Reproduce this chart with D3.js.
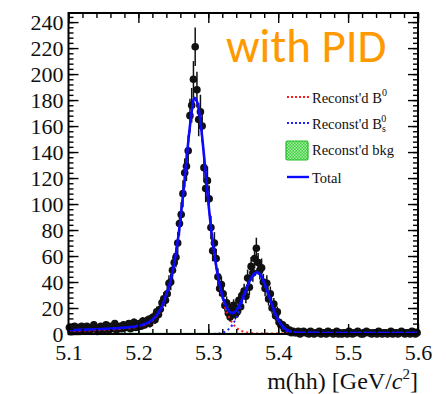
<!DOCTYPE html>
<html><head><meta charset="utf-8">
<script src="https://cdn.jsdelivr.net/npm/d3@7/dist/d3.min.js"></script>
<style>body{margin:0;background:#fff}svg{display:block}</style>
</head><body>
<svg id="c" width="446" height="394"></svg>
<script>
// ---- data ----
const xTicks = [5.1, 5.2, 5.3, 5.4, 5.5, 5.6];
const yTicks = [0, 20, 40, 60, 80, 100, 120, 140, 160, 180, 200, 220, 240];
const binCenters = d3.range(200).map(i => +(5.10125 + 0.0025 * i).toFixed(5));
const dataCounts = [
 5,2,4,6,3,5,2,6,4,3,6,4,3,5,7,4,2,5,6,3,
 5,7,3,6,4,5,8,3,5,6,4,7,6,5,8,4,6,9,5,7,
 8,6,10,7,9,11,8,12,13,11,17,15,19,24,27,26,31,39,40,49,
 55,59,70,85,92,108,124,129,141,168,176,196,221,188,165,171,160,128,112,118,
 104,82,64,70,58,44,35,38,31,22,24,16,13,20,22,15,17,26,21,30,
 33,29,43,36,52,47,58,66,55,49,51,40,35,39,27,31,20,23,14,17,
 9,7,7,4,5,2,3,1,2,1,1,2,0,1,2,1,1,0,2,1,
 0,1,1,2,0,1,1,0,2,1,1,0,1,2,0,1,0,1,1,0,
 2,1,0,1,1,2,1,0,0,1,2,1,1,0,1,1,0,2,1,0,
 1,1,0,1,2,0,1,1,0,1,2,1,0,1,1,0,2,1,0,1];
const curveMass = d3.range(101).map(i => +(5.1 + 0.005 * i).toFixed(4));
const curveB0 = [
 2.2,2.3,2.3,2.4,2.5,2.6,2.7,2.8,2.9,3.0,
 3.1,3.2,3.4,3.5,3.7,3.9,4.1,4.4,4.7,5.1,
 5.6,6.3,7.2,8.5,10.3,13.0,16.8,22,30,38,
 50,66,87,112,140,165,181,176,157,130,
 101,76,56,40,28,19,12.5,8,5,3,
 1.8,1.1,0.7,0.5,0.4,0.35,0.3,0.3,0.3,0.3,
 0.3,0.3,0.3,0.3,0.3,0.3,0.3,0.3,0.3,0.3,
 0.3,0.25,0.25,0.25,0.25,0.25,0.25,0.25,0.25,0.25,
 0.25,0.25,0.25,0.25,0.25,0.25,0.25,0.25,0.25,0.25,
 0.25,0.25,0.25,0.25,0.25,0.25,0.25,0.25,0.25,0.25,0.25];
const curveBs = [
 0,0,0,0,0,0,0,0,0,0,
 0,0,0,0,0,0,0,0,0,0,
 0,0,0,0,0,0,0,0,0,0,
 0,0,0,0,0,0,0,0,0,0,
 0.02,0.06,0.15,0.4,0.9,2.2,4.2,7.5,12.5,19,
 26.5,34,40.5,45,46.5,44.4,38.8,31.4,23.2,15.9,
 10.1,5.9,3.2,1.6,0.72,0.3,0.12,0.05,0,0,
 0,0,0,0,0,0,0,0,0,0,
 0,0,0,0,0,0,0,0,0,0,
 0,0,0,0,0,0,0,0,0,0,0];
const curveTotal = [
 3.0,3.1,3.1,3.2,3.3,3.4,3.5,3.6,3.7,3.8,
 3.9,4.0,4.2,4.3,4.5,4.7,4.9,5.2,5.4,5.8,
 6.3,7.0,7.9,9.2,11.0,13.7,17.5,22.7,30.7,38.7,
 50.7,66.7,87.7,112.7,140.7,165.7,181.7,176.7,157.7,130.7,
 101.7,76.7,56.8,41.1,29.6,21.9,17.3,16.1,18.1,22.6,
 28.9,35.7,41.8,46.1,47.5,45.4,39.7,32.3,24.1,16.8,
 11.0,6.8,4.1,2.5,1.6,1.2,1.0,0.9,0.85,0.85,
 0.85,0.85,0.8,0.8,0.8,0.8,0.8,0.8,0.8,0.75,
 0.75,0.75,0.75,0.75,0.75,0.7,0.7,0.7,0.7,0.7,
 0.7,0.7,0.7,0.7,0.7,0.65,0.65,0.65,0.65,0.65,0.65];
const bkgMass = [5.1, 5.2, 5.3, 5.4, 5.5, 5.6];
const bkgValues = [0.8, 0.73, 0.66, 0.59, 0.52, 0.45];
const legendLabels = ["Reconst'd B", "Reconst'd B", "Reconst'd bkg", "Total"];
const titleText = "with PID";

// ---- layout ----
const SERIF = "Liberation Serif";
const svg = d3.select("#c");
const L = 68.5, R = 418, T = 13, B = 334;
const x = d3.scaleLinear().domain([5.1, 5.6]).range([L, R]);
const y = d3.scaleLinear().domain([0, 247]).range([B, T]);

const defs = svg.append("defs");
const pat = defs.append("pattern").attr("id", "hatch").attr("width", 3).attr("height", 3)
  .attr("patternUnits", "userSpaceOnUse");
pat.append("rect").attr("width", 3).attr("height", 3).attr("fill", "#3ccf3c");
pat.append("rect").attr("width", 1.5).attr("height", 1.5).attr("fill", "#a8eea8");
pat.append("rect").attr("x", 1.5).attr("y", 1.5).attr("width", 1.5).attr("height", 1.5).attr("fill", "#a8eea8");

// background component
svg.append("path").datum(bkgMass.map((m, i) => [m, bkgValues[i]]))
  .attr("fill", "url(#hatch)").attr("stroke", "#22bb22").attr("stroke-width", 0.5)
  .attr("d", d3.area().x(d => x(d[0])).y0(y(0)).y1(d => y(d[1])));

// data points
const pts = svg.append("g");
binCenters.forEach((m, i) => {
  const n = dataCounts[i];
  const e = Math.sqrt(Math.max(n, 1));
  pts.append("line").attr("x1", x(m)).attr("x2", x(m))
    .attr("y1", y(Math.max(0, n - e))).attr("y2", y(n + e))
    .attr("stroke", "#111").attr("stroke-width", 1.5);
});
binCenters.forEach((m, i) => {
  pts.append("circle").attr("cx", x(m)).attr("cy", y(dataCounts[i])).attr("r", 3.8).attr("fill", "#111");
});

// curves
const line = d3.line().x(d => x(d[0])).y(d => y(d[1])).curve(d3.curveMonotoneX);
svg.append("path").datum(curveMass.map((m, i) => [m, curveB0[i]]))
  .attr("fill", "none").attr("stroke", "#ff1a1a").attr("stroke-width", 2)
  .attr("stroke-dasharray", "2,3").attr("d", line);
svg.append("path").datum(curveMass.map((m, i) => [m, curveBs[i]]))
  .attr("fill", "none").attr("stroke", "#2020ff").attr("stroke-width", 2)
  .attr("stroke-dasharray", "2,3").attr("d", line);
svg.append("path").datum(curveMass.map((m, i) => [m, curveTotal[i]]))
  .attr("fill", "none").attr("stroke", "#0a0aff").attr("stroke-width", 2.6).attr("d", line);

// axes (ticks inward)
function tickAxis(axisGen, transform) {
  const g = svg.append("g").attr("transform", transform).call(axisGen);
  g.select(".domain").remove();
  g.selectAll("line").attr("stroke", "#000").attr("stroke-width", 1.4);
  return g;
}
const xMinor = d3.range(5.1, 5.6001, 0.02).map(v => +v.toFixed(3));
const yMinor = d3.range(0, 247, 4);
tickAxis(d3.axisBottom(x).tickValues(xMinor).tickSize(-5).tickFormat(""), `translate(0,${B})`);
const xb = tickAxis(d3.axisBottom(x).tickValues(xTicks).tickSize(-10).tickPadding(10).tickFormat(d3.format(".1f")), `translate(0,${B})`);
xb.selectAll("text").style("font-family", SERIF).style("font-size", "22px").attr("fill", "#111");
tickAxis(d3.axisTop(x).tickValues(xMinor).tickSize(-5).tickFormat(""), `translate(0,${T})`);
tickAxis(d3.axisTop(x).tickValues(xTicks).tickSize(-10).tickFormat(""), `translate(0,${T})`);
tickAxis(d3.axisLeft(y).tickValues(yMinor).tickSize(-5).tickFormat(""), `translate(${L},0)`);
const yl = tickAxis(d3.axisLeft(y).tickValues(yTicks).tickSize(-10).tickPadding(5).tickFormat(d3.format("d")), `translate(${L},0)`);
yl.selectAll("text").style("font-family", SERIF).style("font-size", "22px").attr("fill", "#111").attr("dy", "0.34em");
tickAxis(d3.axisRight(y).tickValues(yMinor).tickSize(-5).tickFormat(""), `translate(${R},0)`);
tickAxis(d3.axisRight(y).tickValues(yTicks).tickSize(-10).tickFormat(""), `translate(${R},0)`);

// frame
svg.append("rect").attr("x", L).attr("y", T).attr("width", R - L).attr("height", B - T)
  .attr("fill", "none").attr("stroke", "#000").attr("stroke-width", 2);

// x-axis title
const xt = svg.append("text").attr("x", R).attr("y", 389).attr("text-anchor", "end")
  .style("font-family", SERIF).style("font-size", "24px").attr("fill", "#111");
xt.append("tspan").text("m(hh) [GeV/");
xt.append("tspan").style("font-style", "italic").text("c");
xt.append("tspan").style("font-size", "15px").attr("dy", -10).text("2");
xt.append("tspan").attr("dy", 10).text("]");

// title
svg.append("text").attr("x", 226).attr("y", 62).style("font-family", "Carlito")
  .style("font-size", "47px").attr("fill", "#ff9900").text(titleText);

// legend
const lg = svg.append("g");
const rowY = [97, 123, 150, 177];
lg.append("line").attr("x1", 287).attr("x2", 309).attr("y1", rowY[0]).attr("y2", rowY[0])
  .attr("stroke", "#ff1a1a").attr("stroke-width", 2).attr("stroke-dasharray", "2,2");
lg.append("line").attr("x1", 287).attr("x2", 309).attr("y1", rowY[1]).attr("y2", rowY[1])
  .attr("stroke", "#2020ff").attr("stroke-width", 2).attr("stroke-dasharray", "2,2");
lg.append("rect").attr("x", 286).attr("y", rowY[2] - 9).attr("width", 22).attr("height", 19).attr("rx", 1.5)
  .attr("fill", "url(#hatch)").attr("stroke", "#22bb22").attr("stroke-width", 1.2);
lg.append("line").attr("x1", 287).attr("x2", 309).attr("y1", rowY[3]).attr("y2", rowY[3])
  .attr("stroke", "#0a0aff").attr("stroke-width", 2.4);
function legText(yy) {
  return lg.append("text").attr("x", 312).attr("y", yy)
    .style("font-family", SERIF).style("font-size", "14.5px").attr("fill", "#111");
}
const t0 = legText(rowY[0] + 6);
t0.append("tspan").text(legendLabels[0]);
t0.append("tspan").style("font-size", "10px").attr("dy", -7).text("0");
const t1 = legText(rowY[1] + 6);
t1.append("tspan").text(legendLabels[1]);
t1.append("tspan").style("font-size", "10px").attr("dy", 3).text("s");
t1.append("tspan").style("font-size", "10px").attr("dx", -4.5).attr("dy", -10).text("0");
legText(rowY[2] + 5).text(legendLabels[2]);
legText(rowY[3] + 6).text(legendLabels[3]);
</script>
</body></html>
